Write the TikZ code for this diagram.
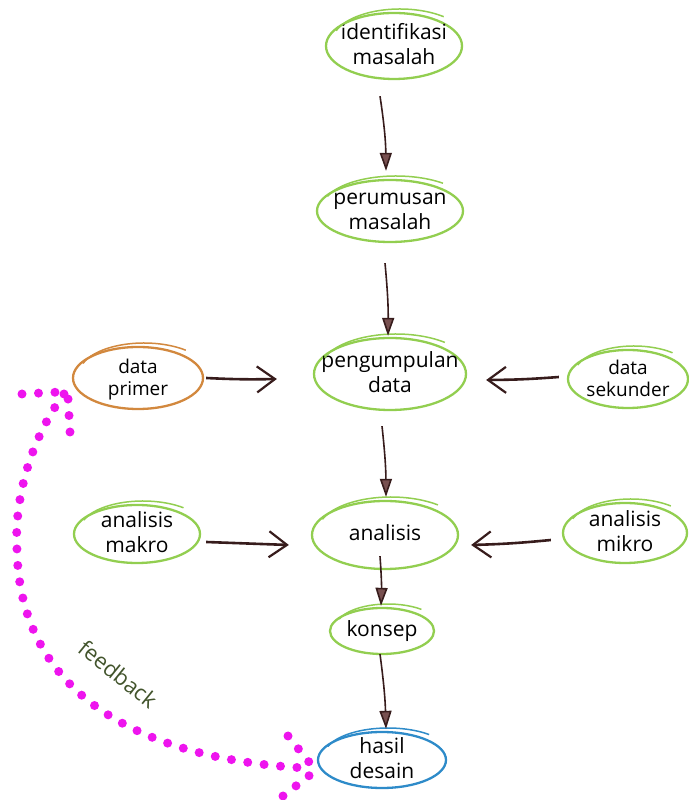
\documentclass[tikz,border=0pt]{standalone}
\usepackage{fontspec}
\setmainfont{Open Sans}
\usetikzlibrary{shapes.geometric,arrows.meta,calc}
\definecolor{lg}{RGB}{146,206,80}
\definecolor{org}{RGB}{210,136,62}
\definecolor{blu}{RGB}{46,139,201}
\definecolor{brn}{RGB}{55,28,28}
\definecolor{hatch}{RGB}{120,80,80}
\definecolor{mag}{RGB}{238,20,238}
\definecolor{olv}{RGB}{66,84,44}
\newcommand\twol[1]{\smash{\makebox[0pt]{\raisebox{-6pt}{\begin{tabular}{@{}c@{}}#1\end{tabular}}}}}
\newcommand\sk[4]{\draw[#2,line width=1.5pt] (#1.center) ++({6+#3*cos(160)},{4+#4*sin(160)}) arc[start angle=160,end angle=50,x radius=#3pt,y radius=#4pt];}
\tikzset{
  ell/.style={ellipse, inner sep=0pt, line width=2.3pt, font=\fontsize{21}{25}\selectfont},
  sml/.style={font=\fontsize{19}{22}\selectfont},
  varr/.style={brn, line width=1.6pt, -{Triangle[length=18pt,width=12pt,fill=hatch]}},
  harr/.style={brn, line width=2.6pt, -{Straight Barb[length=18pt,width=26pt,line width=2.2pt]}},
  dots/.style={mag, line width=9pt, line cap=round, dash pattern=on 0pt off 16.5pt},
}
\begin{document}
\begin{tikzpicture}[x=1pt,y=1pt]
\useasboundingbox (0,0) rectangle (688,800);
% nodes
\node[ell, draw=lg, minimum width=136pt, minimum height=66pt] (idm) at (394,754) {\twol{identifikasi\\masalah}};
\node[ell, draw=lg, minimum width=146pt, minimum height=62pt] (pm) at (390,589) {\twol{perumusan\\masalah}};
\node[ell, draw=lg, minimum width=152pt, minimum height=72pt] (pd) at (390,426) {\twol{pengumpulan\\data}};
\node[ell, sml, draw=org, minimum width=130pt, minimum height=62pt] (dp) at (138,422) {\twol{data\\primer}};
\node[ell, sml, draw=lg, minimum width=120pt, minimum height=58pt] (ds) at (628,421) {\twol{data\\sekunder}};
\node[ell, draw=lg, minimum width=146pt, minimum height=68pt] (an) at (385,265) {\twol{analisis}};
\node[ell, draw=lg, minimum width=126pt, minimum height=58pt] (amk) at (137,266) {\twol{analisis\\makro}};
\node[ell, draw=lg, minimum width=124pt, minimum height=60pt] (ami) at (625,267) {\twol{analisis\\mikro}};
\node[ell, draw=lg, minimum width=104pt, minimum height=46pt] (ks) at (382,169) {\twol{konsep}};
\node[ell, draw=blu, minimum width=128pt, minimum height=56pt] (hd) at (382,40) {\twol{hasil\\desain}};
% sketch strokes
\sk{idm}{lg}{68}{33}
\sk{pm}{lg}{73}{31}
\sk{pd}{lg}{76}{36}
\sk{dp}{org}{65}{31}
\sk{ds}{lg}{60}{29}
\sk{an}{lg}{73}{34}
\sk{amk}{lg}{63}{29}
\sk{ami}{lg}{62}{30}
\sk{ks}{lg}{52}{23}
\sk{hd}{blu}{64}{28}
% vertical arrows
\draw[varr] ([xshift=-14pt,yshift=-16pt]idm.south) to[bend left=4] ([xshift=-4pt,yshift=8pt]pm.north);
\draw[varr] ([xshift=-5pt,yshift=-20pt]pm.south) to[bend left=3] ([xshift=-2pt,yshift=1pt]pd.north);
\draw[varr] ([xshift=-8pt,yshift=-15pt]pd.south) to[bend left=3] ([xshift=1pt,yshift=3pt]an.north);
\draw[varr] ([xshift=-5pt,yshift=14pt]an.south) to[bend left=3] ([xshift=-1pt,yshift=1pt]ks.north);
\draw[varr] ([xshift=-2pt,yshift=1pt]ks.south) to[bend left=3] ([xshift=4pt,yshift=2pt]hd.north);
% horizontal arrows
\draw[harr] ([xshift=2pt]dp.east) to[bend right=2] ([xshift=-36pt,yshift=-5pt]pd.west);
\draw[harr] ([xshift=-8pt,yshift=2pt]ds.west) to[bend left=2] ([xshift=19pt,yshift=-6pt]pd.east);
\draw[harr] ([xshift=5pt,yshift=-8pt]amk.east) -- ([xshift=-22pt,yshift=-10pt]an.west);
\draw[harr] ([xshift=-11pt,yshift=-7pt]ami.west) to[bend left=2] ([xshift=12pt,yshift=-10pt]an.east);
% feedback
\coordinate (ft) at (64,406);
\coordinate (fb) at (306,32);
\draw[dots] (ft) .. controls (30,360) and (14,300) .. (17,250) .. controls (20,100) and (150,40) .. (fb);
\coordinate (ta1) at (22,406);
\coordinate (ta2) at (70,368);
\draw[dots] (ta1) -- (60,408);
\draw[dots] (ta2) -- (68,402);
\coordinate (ba1) at (288,64);
\coordinate (ba2) at (283,4);
\draw[dots] (ba1) -- (309,38);
\draw[dots] (ba2) -- (310,25);
\node[olv, rotate=-39, font=\fontsize{22}{26}\selectfont] (fbl) at (118,126) {feedback};
\end{tikzpicture}
\end{document}
